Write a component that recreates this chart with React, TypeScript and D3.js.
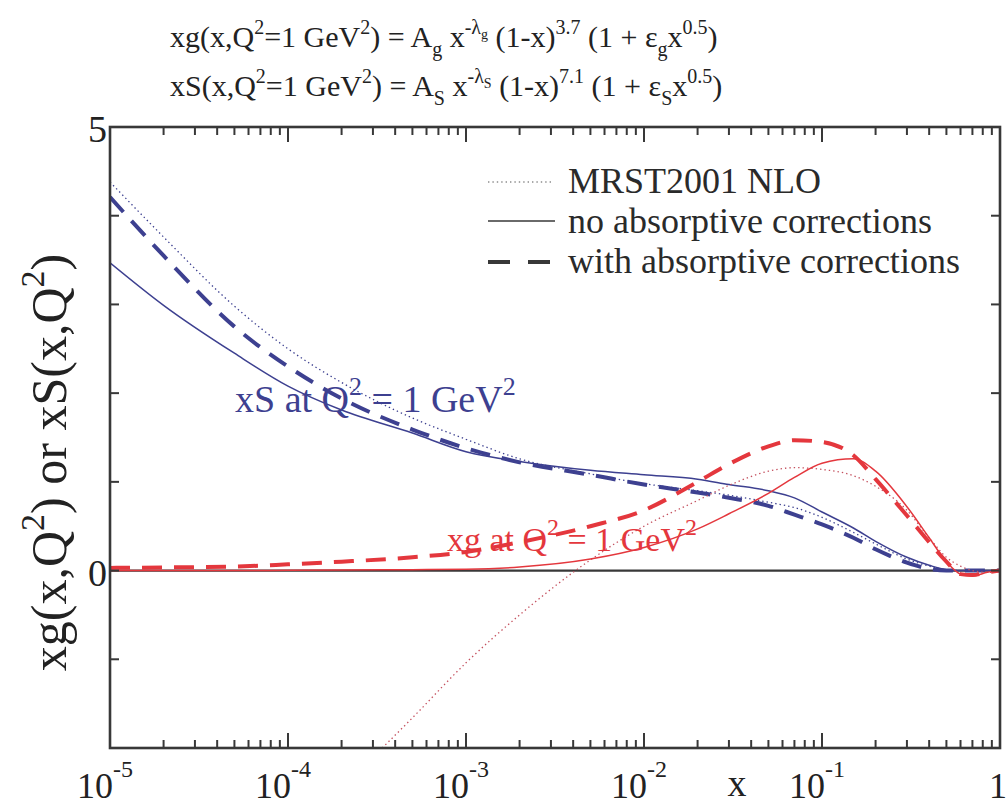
import React from "react";
import * as d3 from "d3";

// ---------- data ----------
const xGrid = [1e-5, 2e-5, 5e-5, 1e-4, 2e-4, 5e-4, 1e-3, 2e-3, 5e-3, 1e-2, 2e-2, 3e-2, 5e-2, 7e-2, 0.1, 0.15, 0.2, 0.3, 0.4, 0.5, 0.6, 0.7, 0.85, 1];

const xS_MRST = [4.38, 3.76, 2.98, 2.5, 2.12, 1.72, 1.48, 1.26, 1.09, 0.98, 0.9, 0.85, 0.77, 0.71, 0.6, 0.43, 0.3, 0.13, 0.05, 0.01, 0, 0, 0, 0];
const xS_noAbs = [3.47, 2.99, 2.45, 2.08, 1.81, 1.55, 1.34, 1.23, 1.13, 1.08, 1.03, 0.97, 0.9, 0.82, 0.66, 0.48, 0.33, 0.15, 0.06, 0.01, 0, 0, 0, 0];
const xS_withAbs = [4.21, 3.55, 2.75, 2.3, 1.94, 1.59, 1.38, 1.22, 1.08, 0.97, 0.88, 0.82, 0.73, 0.63, 0.52, 0.37, 0.24, 0.09, 0.02, 0, 0, 0, 0, 0];

const xg_MRST: (number | null)[] = [null, null, null, null, -2.45, -1.66, -1.04, -0.5, 0.12, 0.5, 0.79, 0.96, 1.12, 1.16, 1.14, 1.07, 0.95, 0.68, 0.37, 0.15, 0.05, 0, -0.02, 0];
const xg_noAbs = [0, 0, 0, 0.003, 0.006, 0.01, 0.015, 0.04, 0.13, 0.26, 0.47, 0.64, 0.87, 1.05, 1.21, 1.26, 1.12, 0.72, 0.37, 0.1, -0.04, -0.06, -0.02, 0];
const xg_withAbs = [0.03, 0.035, 0.045, 0.07, 0.1, 0.15, 0.21, 0.32, 0.5, 0.68, 1.0, 1.2, 1.4, 1.47, 1.45, 1.3, 1.03, 0.62, 0.32, 0.1, -0.04, -0.05, -0.02, 0];

const xTickValues = [1e-5, 1e-4, 1e-3, 1e-2, 1e-1, 1];
const xTickExps = ["-5", "-4", "-3", "-2", "-1", ""];
const yTickValues = [-1, 0, 1, 2, 3, 4];
const yLabelValues = [0, 5];

const legendLabels = ["MRST2001 NLO", "no absorptive corrections", "with absorptive corrections"];

// ---------- styles ----------
const BLUE = "#3d4090";
const RED = "#e4373d";
const RED_DOT = "#c4505e";
const AXIS = "#383838";
const FONT = "'Liberation Serif', 'Times New Roman', serif";

const W = 1008;
const H = 805;
const M = { left: 110, right: 1000, top: 127, bottom: 748 };

type Seg = { t: string; off?: number; fs?: number };

function RichText({ x, y, segs, fs, fill, anchor, transform }: { x: number; y: number; segs: Seg[]; fs: number; fill: string; anchor?: string; transform?: string }) {
  let prev = 0;
  return (
    <text x={x} y={y} fontSize={fs} fill={fill} fontFamily={FONT} textAnchor={anchor || "start"} transform={transform}>
      {segs.map((s, i) => {
        const off = s.off || 0;
        const dy = off - prev;
        prev = off;
        return (
          <tspan key={i} dy={dy} fontSize={s.fs || fs}>
            {s.t}
          </tspan>
        );
      })}
    </text>
  );
}

export default function App() {
  const x = d3.scaleLog().domain([1e-5, 1]).range([M.left, M.right]);
  const y = d3.scaleLinear().domain([-2, 5]).range([M.bottom, M.top]);

  const mk = (vals: (number | null)[]) =>
    d3
      .line<number>()
      .defined((_, i) => vals[i] !== null)
      .x((_, i) => x(xGrid[i]))
      .y((_, i) => y(vals[i] as number))
      .curve(d3.curveMonotoneX)(xGrid as any) || "";

  const minorX: number[] = [];
  for (let e = -5; e < 0; e++) for (let k = 2; k <= 9; k++) minorX.push(k * Math.pow(10, e));

  const sup = -13;
  const supFs = 20;
  const titleFs = 30;
  const line1: Seg[] = [
    { t: "xg(x,Q" },
    { t: "2", off: sup, fs: supFs },
    { t: "=1 GeV" },
    { t: "2", off: sup, fs: supFs },
    { t: ") = A" },
    { t: "g", off: 9, fs: supFs },
    { t: " x" },
    { t: "-λ", off: sup, fs: supFs },
    { t: "g", off: -8, fs: 14 },
    { t: " (1-x)" },
    { t: "3.7", off: sup, fs: supFs },
    { t: " (1 + ε" },
    { t: "g", off: 9, fs: supFs },
    { t: "x" },
    { t: "0.5", off: sup, fs: supFs },
    { t: ")" },
  ];
  const line2: Seg[] = [
    { t: "xS(x,Q" },
    { t: "2", off: sup, fs: supFs },
    { t: "=1 GeV" },
    { t: "2", off: sup, fs: supFs },
    { t: ") = A" },
    { t: "S", off: 9, fs: supFs },
    { t: " x" },
    { t: "-λ", off: sup, fs: supFs },
    { t: "S", off: -8, fs: 14 },
    { t: " (1-x)" },
    { t: "7.1", off: sup, fs: supFs },
    { t: " (1 + ε" },
    { t: "S", off: 9, fs: supFs },
    { t: "x" },
    { t: "0.5", off: sup, fs: supFs },
    { t: ")" },
  ];

  return (
    <svg width={W} height={H} style={{ position: "absolute", left: 0, top: 0, background: "#fff" }}>
      <defs>
        <clipPath id="plot">
          <rect x={M.left} y={M.top} width={M.right - M.left} height={M.bottom - M.top} />
        </clipPath>
      </defs>
      <rect x={0} y={0} width={W} height={H} fill="#fff" />

      {/* title formulas */}
      <RichText x={170} y={47} segs={line1} fs={titleFs} fill="#222" />
      <RichText x={170} y={96} segs={line2} fs={titleFs} fill="#222" />

      {/* zero line */}
      <line x1={M.left} x2={M.right} y1={y(0)} y2={y(0)} stroke={AXIS} strokeWidth={2.2} />

      {/* curves */}
      <g clipPath="url(#plot)" fill="none">
        <path d={mk(xS_MRST)} stroke={BLUE} strokeWidth={1.3} strokeDasharray="1.4,3" />
        <path d={mk(xS_noAbs)} stroke={BLUE} strokeWidth={1.5} />
        <path d={mk(xS_withAbs)} stroke={BLUE} strokeWidth={4} strokeDasharray="20,12" />
        <path d={mk(xg_MRST)} stroke={RED_DOT} strokeWidth={1.3} strokeDasharray="1.4,3" />
        <path d={mk(xg_noAbs)} stroke={RED} strokeWidth={1.5} />
        <path d={mk(xg_withAbs)} stroke={RED} strokeWidth={4} strokeDasharray="20,12" />
      </g>

      {/* frame */}
      <rect x={M.left} y={M.top} width={M.right - M.left} height={M.bottom - M.top} fill="none" stroke={AXIS} strokeWidth={2.6} />

      {/* x ticks */}
      {xTickValues.map((v) => (
        <g key={"xt" + v}>
          <line x1={x(v)} x2={x(v)} y1={M.bottom} y2={M.bottom - 15} stroke={AXIS} strokeWidth={2} />
          <line x1={x(v)} x2={x(v)} y1={M.top} y2={M.top + 15} stroke={AXIS} strokeWidth={2} />
        </g>
      ))}
      {minorX.map((v) => (
        <g key={"xm" + v}>
          <line x1={x(v)} x2={x(v)} y1={M.bottom} y2={M.bottom - 8} stroke={AXIS} strokeWidth={2} />
          <line x1={x(v)} x2={x(v)} y1={M.top} y2={M.top + 8} stroke={AXIS} strokeWidth={2} />
        </g>
      ))}
      {/* y ticks */}
      {yTickValues.map((v) => (
        <g key={"yt" + v}>
          <line x1={M.left} x2={M.left + 9} y1={y(v)} y2={y(v)} stroke={AXIS} strokeWidth={2} />
          <line x1={M.right} x2={M.right - 9} y1={y(v)} y2={y(v)} stroke={AXIS} strokeWidth={2} />
        </g>
      ))}

      {/* y tick labels */}
      {yLabelValues.map((v) => (
        <text key={"yl" + v} x={M.left - 3} y={y(v) + 15} fontSize={38} fontFamily={FONT} fill="#222" textAnchor="end">
          {v}
        </text>
      ))}

      {/* x tick labels */}
      {xTickValues.map((v, i) =>
        xTickExps[i] ? (
          <text key={"xl" + v} x={x(v) - 33} y={798} fontSize={36} fontFamily={FONT} fill="#222">
            10
            <tspan dy={-21} fontSize={24}>
              {xTickExps[i]}
            </tspan>
          </text>
        ) : (
          <text key={"xl" + v} x={x(v) - 2} y={798} fontSize={36} fontFamily={FONT} fill="#222" textAnchor="middle">
            1
          </text>
        )
      )}

      {/* axis titles */}
      <text x={737} y={796} fontSize={38} fontFamily={FONT} fill="#222" textAnchor="middle">
        x
      </text>
      <RichText
        x={0}
        y={0}
        transform={`translate(66,${(M.top + M.bottom) / 2 + 25}) rotate(-90)`}
        anchor="middle"
        fs={50}
        fill="#222"
        segs={[
          { t: "xg(x,Q" },
          { t: "2", off: -22, fs: 34 },
          { t: ")  or  xS(x,Q" },
          { t: "2", off: -22, fs: 34 },
          { t: ")" },
        ]}
      />

      {/* curve labels */}
      <RichText
        x={235}
        y={412}
        fs={38}
        fill={BLUE}
        segs={[{ t: "xS at Q" }, { t: "2", off: -17, fs: 26 }, { t: " = 1 GeV" }, { t: "2", off: -17, fs: 26 }]}
      />
      <RichText
        x={447}
        y={551}
        fs={34}
        fill={RED}
        segs={[{ t: "xg at Q" }, { t: "2", off: -16, fs: 24 }, { t: " = 1 GeV" }, { t: "2", off: -16, fs: 24 }]}
      />

      {/* legend */}
      <line x1={488} x2={553} y1={182} y2={182} stroke="#555" strokeWidth={1.2} strokeDasharray="1.4,3" />
      <line x1={488} x2={555} y1={221} y2={221} stroke={AXIS} strokeWidth={1.5} />
      <line x1={488} x2={555} y1={262} y2={262} stroke={AXIS} strokeWidth={4} strokeDasharray="22,18" />
      {legendLabels.map((s, i) => (
        <text key={s} x={568} y={[193, 233, 273][i]} fontSize={36} fontFamily={FONT} fill="#2a2a2a">
          {s}
        </text>
      ))}
    </svg>
  );
}
